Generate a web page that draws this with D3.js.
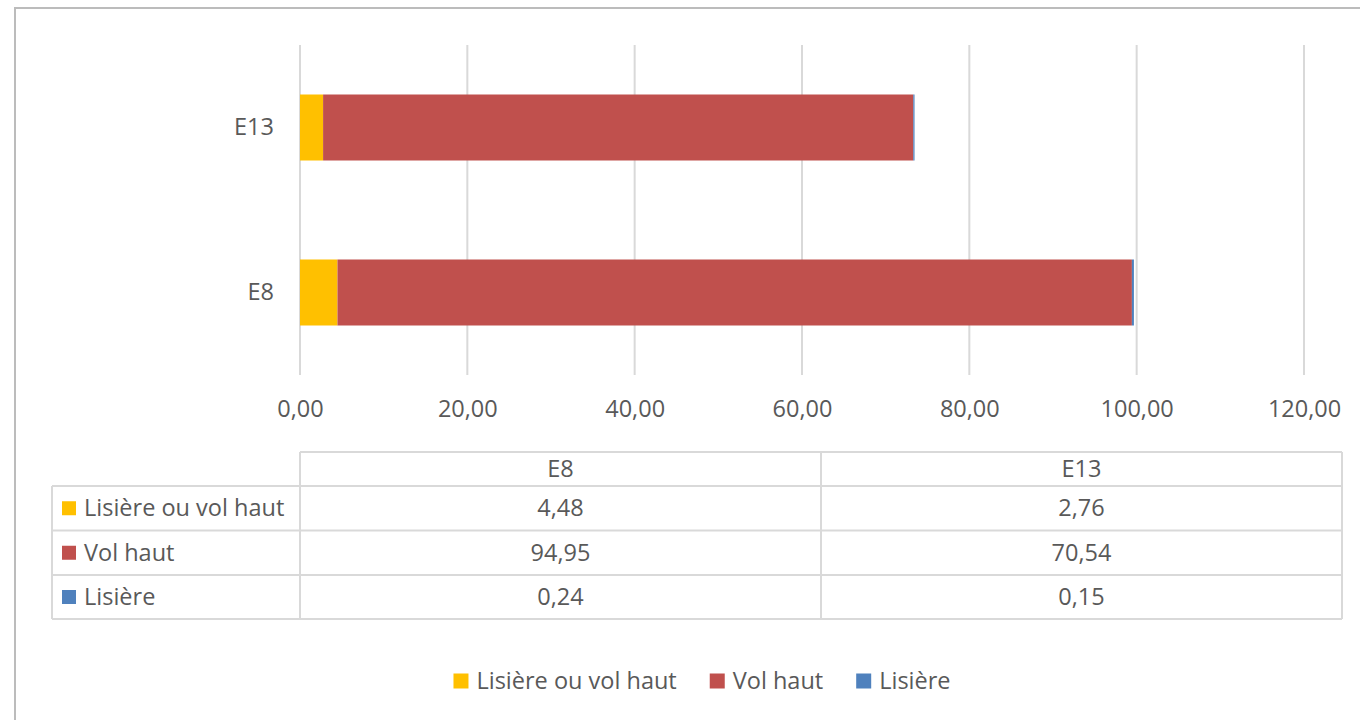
<!DOCTYPE html>
<html>
<head>
<meta charset="utf-8">
<script src="https://cdn.jsdelivr.net/npm/d3@7"></script>
<style>
  body { margin: 0; background: #fff; }
  text { font-family: "Open Sans", "Noto Sans", sans-serif; fill: #595959; }
</style>
</head>
<body>
<svg width="1360" height="720"></svg>
<script>
// data
var categories = ["E8", "E13"];
var seriesNames = ["Lisière ou vol haut", "Vol haut", "Lisière"];
var lisiereOuVolHaut = [4.48, 2.76];
var volHaut = [94.95, 70.54];
var lisiere = [0.24, 0.15];
var xTicks = [0, 20, 40, 60, 80, 100, 120];
var colors = ["#FFC000", "#C0504D", "#4F81BD"];

var svg = d3.select("svg");
var fr = d3.formatLocale({decimal: ",", thousands: " ", grouping: [3], currency: ["", "€"]});
var fmt = fr.format(".2f");
var fontSize = "23.5px";

// frame of the chart
svg.append("rect")
    .attr("x", 15).attr("y", 8)
    .attr("width", 1400).attr("height", 760)
    .attr("fill", "none")
    .attr("stroke", "#bcbcbc")
    .attr("stroke-width", 2);

var plotLeft = 300, plotRight = 1304, plotTop = 45, plotBottom = 375;

var x = d3.scaleLinear().domain([0, 120]).range([plotLeft, plotRight]);
var y = d3.scaleBand()
    .domain(categories.slice().reverse())
    .range([plotTop, plotBottom])
    .paddingInner(0.6)
    .paddingOuter(0.3);

// gridlines
svg.append("g").selectAll("line")
    .data(xTicks)
    .enter().append("line")
    .attr("x1", function(d) { return x(d); })
    .attr("x2", function(d) { return x(d); })
    .attr("y1", plotTop)
    .attr("y2", plotBottom)
    .attr("stroke", "#d9d9d9")
    .attr("stroke-width", 2);

// x tick labels
var xAxis = svg.append("g")
    .attr("transform", "translate(0," + plotBottom + ")")
    .call(d3.axisBottom(x).tickValues(xTicks).tickFormat(fmt).tickSize(0).tickPadding(25));
xAxis.select(".domain").remove();
xAxis.selectAll("text")
    .attr("font-size", fontSize)
    .attr("fill", "#595959")
    .style("font-family", "'Open Sans', 'Noto Sans', sans-serif");

// y category labels
var yAxis = svg.append("g")
    .attr("transform", "translate(" + plotLeft + ",0)")
    .call(d3.axisLeft(y).tickSize(0).tickPadding(26));
yAxis.select(".domain").remove();
yAxis.selectAll("text")
    .attr("font-size", fontSize)
    .attr("fill", "#595959")
    .style("font-family", "'Open Sans', 'Noto Sans', sans-serif");

// stacked bars
var rows = categories.map(function(c, i) {
    var r = {cat: c};
    r[seriesNames[0]] = lisiereOuVolHaut[i];
    r[seriesNames[1]] = volHaut[i];
    r[seriesNames[2]] = lisiere[i];
    return r;
});
var stacked = d3.stack().keys(seriesNames)(rows);

svg.append("g").selectAll("g")
    .data(stacked)
    .enter().append("g")
    .attr("fill", function(d, i) { return colors[i]; })
    .selectAll("rect")
    .data(function(d) { return d; })
    .enter().append("rect")
    .attr("x", function(d) { return x(d[0]); })
    .attr("y", function(d) { return y(d.data.cat); })
    .attr("width", function(d) { return x(d[1]) - x(d[0]); })
    .attr("height", y.bandwidth());

// data table
var tableLeft = 52, tableRight = 1342;
var colX = d3.scaleBand().domain(categories).range([plotLeft, tableRight]);
var rowEdges = [452, 486, 530.5, 575, 619];
var tbl = svg.append("g")
    .attr("stroke", "#d9d9d9")
    .attr("stroke-width", 2)
    .attr("fill", "none");

// horizontal lines
rowEdges.forEach(function(ry, i) {
    tbl.append("line")
        .attr("x1", i === 0 ? plotLeft : tableLeft)
        .attr("x2", tableRight)
        .attr("y1", ry).attr("y2", ry);
});
// vertical lines
tbl.append("line").attr("x1", tableLeft).attr("x2", tableLeft)
    .attr("y1", rowEdges[1]).attr("y2", rowEdges[4]);
[plotLeft, colX("E13"), tableRight].forEach(function(vx) {
    tbl.append("line").attr("x1", vx).attr("x2", vx)
        .attr("y1", rowEdges[0]).attr("y2", rowEdges[4]);
});

// header cells
svg.append("g").selectAll("text")
    .data(categories)
    .enter().append("text")
    .attr("x", function(d) { return colX(d) + colX.bandwidth() / 2; })
    .attr("y", (rowEdges[0] + rowEdges[1]) / 2 + 8)
    .attr("text-anchor", "middle")
    .attr("font-size", fontSize)
    .text(function(d) { return d; });

var seriesValues = [lisiereOuVolHaut, volHaut, lisiere];
seriesNames.forEach(function(name, si) {
    var cy = (rowEdges[si + 1] + rowEdges[si + 2]) / 2;
    svg.append("rect")
        .attr("x", 62).attr("y", cy - 7)
        .attr("width", 14).attr("height", 14)
        .attr("fill", colors[si]);
    svg.append("text")
        .attr("x", 84).attr("y", cy + 8)
        .attr("font-size", fontSize)
        .text(name);
    svg.append("g").selectAll("text")
        .data(seriesValues[si])
        .enter().append("text")
        .attr("x", function(d, i) { return colX(categories[i]) + colX.bandwidth() / 2; })
        .attr("y", cy + 8)
        .attr("text-anchor", "middle")
        .attr("font-size", fontSize)
        .text(function(d) { return fmt(d); });
});

// legend
var legend = svg.append("g");
var items = legend.selectAll("g")
    .data(seriesNames)
    .enter().append("g");
items.append("rect")
    .attr("width", 15).attr("height", 15)
    .attr("y", -7.5)
    .attr("fill", function(d, i) { return colors[i]; });
items.append("text")
    .attr("x", 23)
    .attr("y", 8)
    .attr("font-size", fontSize)
    .text(function(d) { return d; });
var lx = 0;
items.each(function() {
    var g = d3.select(this);
    g.attr("transform", "translate(" + lx + ",0)");
    lx += 23 + g.select("text").node().getComputedTextLength() + 33;
});
var legendWidth = lx - 33;
legend.attr("transform", "translate(" + (702 - legendWidth / 2) + ",681)");
</script>
</body>
</html>
